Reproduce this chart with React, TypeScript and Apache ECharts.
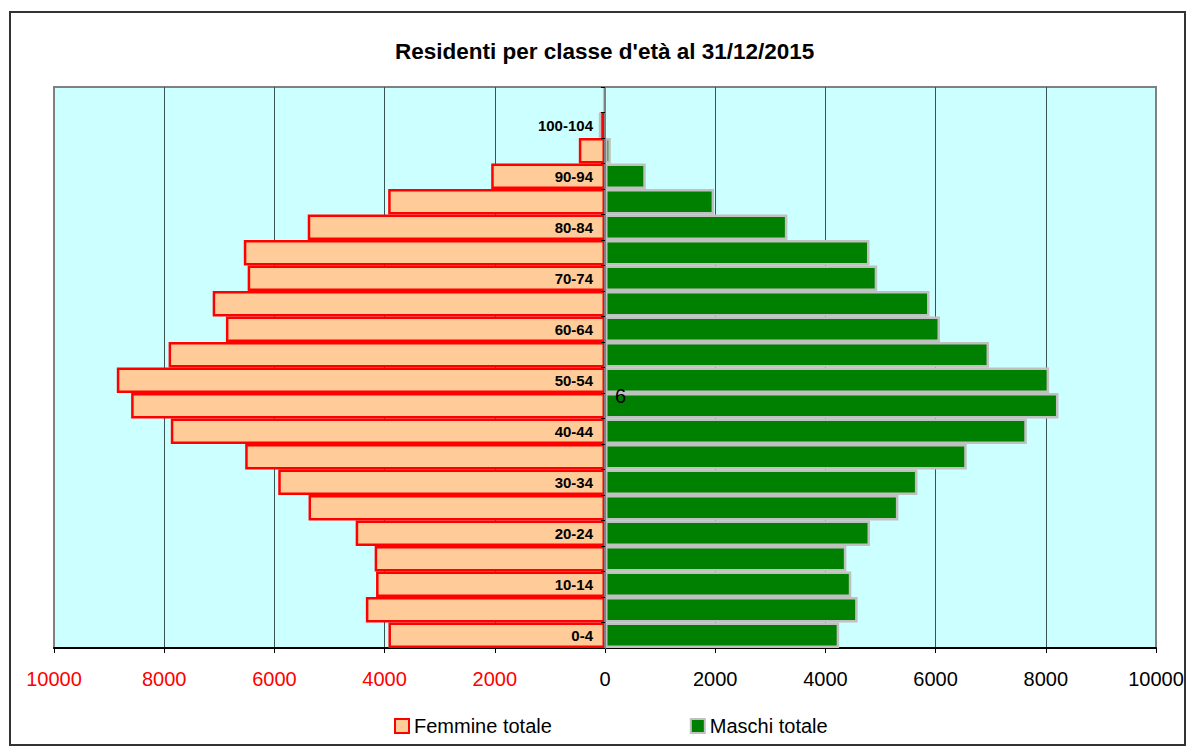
import React, { useEffect, useRef } from "react";
import * as echarts from "echarts";

const ages = [
  "0-4", "5-9", "10-14", "15-19", "20-24", "25-29", "30-34", "35-39", "40-44", "45-49",
  "50-54", "55-59", "60-64", "65-69", "70-74", "75-79", "80-84", "85-89", "90-94", "95-99",
  "100-104", "105+",
];

const femmine = [
  3930, 4340, 4155, 4180, 4525, 5380, 5930, 6530, 7880, 8600,
  8860, 7920, 6880, 7120, 6485, 6555, 5395, 3935, 2065, 475,
  90, 15,
];

const maschi = [
  4250, 4585, 4470, 4380, 4810, 5325, 5670, 6565, 7655, 8230,
  8060, 6970, 6080, 5890, 4940, 4800, 3310, 1980, 740, 105,
  0, 0,
];

const titleText = "Residenti per classe d'età al 31/12/2015";
const seriesNames = ["Femmine totale", "Maschi totale"];
const strayLabel = "6";

const FONT = '"Liberation Sans", Arial, sans-serif';

const GRID_LEFT = 54;
const GRID_RIGHT = 38;
const WIDTH = 1194;

export default function App() {
  const ref = useRef<HTMLDivElement>(null);

  useEffect(() => {
    if (!ref.current) return;
    const chart = echarts.init(ref.current, null, { renderer: "svg" });
    const halfWidth = (WIDTH - GRID_LEFT - GRID_RIGHT) / 2;
    chart.setOption({
      animation: false,
      backgroundColor: "#ffffff",
      textStyle: { fontFamily: FONT },
      title: {
        text: titleText,
        left: 395,
        top: 40,
        padding: 0,
        textStyle: { fontFamily: FONT, fontSize: 22.5, fontWeight: "bold", color: "#000" },
      },
      legend: {
        data: seriesNames,
        left: 394,
        top: 716,
        padding: 0,
        itemWidth: 14,
        itemHeight: 14,
        itemGap: 138,
        icon: "rect",
        selectedMode: false,
        textStyle: { fontFamily: FONT, fontSize: 20, color: "#000" },
      },
      grid: {
        left: GRID_LEFT,
        right: GRID_RIGHT,
        top: 87,
        bottom: 108,
        show: true,
        backgroundColor: "#CCFFFF",
        borderColor: "#808080",
        borderWidth: 2,
        containLabel: false,
        outerBoundsMode: "none",
      },
      xAxis: {
        type: "value",
        min: -10000,
        max: 10000,
        interval: 2000,
        axisLine: { show: true, lineStyle: { color: "#000", width: 2 } },
        axisTick: { show: true, length: 5, lineStyle: { color: "#000" } },
        axisLabel: {
          margin: 21,
          fontSize: 20,
          fontFamily: FONT,
          formatter: (v: number) => String(Math.abs(v)),
          color: (v: any) => (Number(v) < 0 ? "#FF0000" : "#000000"),
        },
        splitLine: {
          show: true,
          showMinLine: false,
          showMaxLine: false,
          lineStyle: { color: "#3A5454", width: 1 },
        },
      },
      yAxis: {
        type: "category",
        data: ages,
        position: "left",
        offset: -halfWidth,
        axisLine: { show: true, onZero: false, lineStyle: { color: "#808080", width: 2 } },
        axisTick: { show: true, interval: 0, length: 4, lineStyle: { color: "#000" } },
        axisLabel: {
          interval: 1,
          margin: 12,
          fontSize: 15,
          fontWeight: "bold",
          fontFamily: FONT,
          color: "#000",
        },
        splitLine: { show: false },
        z: 5,
      },
      series: [
        {
          name: seriesNames[0],
          type: "bar",
          stack: "pop",
          barCategoryGap: "0%",
          data: femmine.map((v) => -v),
          itemStyle: { color: "#FFCC99", borderColor: "#FF0000", borderWidth: 2.5 },
        },
        {
          name: seriesNames[1],
          type: "bar",
          stack: "pop",
          barCategoryGap: "0%",
          data: maschi,
          itemStyle: { color: "#008000", borderColor: "#C0C0C0", borderWidth: 2.5 },
        },
      ],
      graphic: [
        {
          type: "rect",
          shape: { x: 10, y: 12, width: 1175, height: 733 },
          style: { fill: "none", stroke: "#333333", lineWidth: 2 },
          silent: true,
          z: 100,
        },
        {
          type: "text",
          x: 615,
          y: 396,
          style: {
            text: strayLabel,
            fontSize: 20,
            fontFamily: FONT,
            fill: "#000",
            textVerticalAlign: "middle",
          },
          z: 100,
        },
      ],
    });
    return () => chart.dispose();
  }, []);

  return (
    <div
      ref={ref}
      style={{ position: "absolute", left: 0, top: 0, width: WIDTH, height: 756 }}
    />
  );
}
